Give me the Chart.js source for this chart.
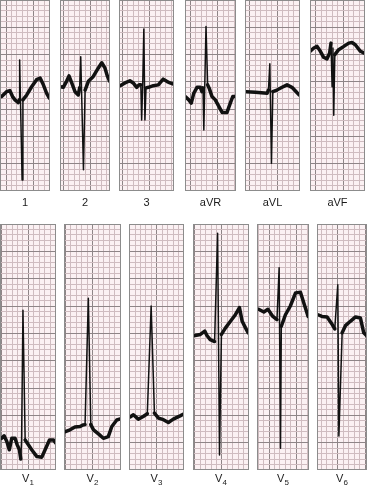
<!DOCTYPE html>
<html>
<head>
<meta charset="utf-8">
<title>12-lead ECG</title>
<script src="https://cdn.jsdelivr.net/npm/chart.js"></script>
<style>
  body { margin: 0; background: #fff; font-family: 'Liberation Sans', Arial, sans-serif; }
  #ecg { position: relative; width: 367px; height: 489px; overflow: hidden; }
  .panel { position: absolute; }
  .panel canvas { display: block; background: #fbf1f3; outline: 1px solid #8c8c8c; outline-offset: -1px; }
  .lead { position: absolute; font-size: 11px; line-height: 12px; color: #1a1a1a; text-align: center; }
  .lead sub { font-size: 8px; line-height: 0; vertical-align: -3px; }
</style>
</head>
<body>
<div id="ecg"></div>

<script>
  // lead names (label, subscript)
  const leadNames = ['1', '2', '3', 'aVR', 'aVL', 'aVF', 'V1', 'V2', 'V3', 'V4', 'V5', 'V6'];

  // traces: [time, amplitude] in small grid squares (1 mm)
  const lead1 = [[0.3,17.3],[1.2,18.2],[1.8,18.4],[2.3,17.3],[2.75,16.7],[3.35,16.2],[3.55,16.7],[3.6,24.0],[4.05,2.0],[4.2,16.7],[4.9,17.6],[5.8,19.1],[6.7,20.4],[7.35,20.7],[7.95,19.45],[8.55,17.9],[9.05,17.0]];
  const lead2 = [[0.05,19.1],[0.6,19.0],[1.2,20.1],[1.65,21.1],[2.15,19.8],[2.75,18.2],[3.35,17.6],[3.6,18.9],[3.8,24.6],[4.3,3.9],[4.6,18.5],[5.2,20.1],[6.1,21.0],[7.0,22.5],[7.65,23.5],[8.25,22.5],[8.7,21.0],[9.1,20.1]];
  const lead3 = [[0.2,19.3],[1.1,19.8],[2.0,20.2],[2.6,19.8],[3.25,19.0],[3.7,19.45],[4.0,19.45],[4.15,13.0],[4.35,19.8],[4.55,29.7],[4.75,13.0],[4.95,18.9],[5.4,19.0],[6.3,19.3],[7.2,19.45],[8.1,20.5],[8.75,20.1],[9.35,19.8],[9.95,19.6]];
  const leadAVR = [[0.05,17.3],[0.7,16.7],[1.15,16.1],[1.6,17.9],[2.2,19.0],[2.8,19.0],[3.1,18.2],[3.3,18.9],[3.45,11.2],[3.85,30.15],[4.15,19.45],[4.45,18.8],[4.95,17.3],[5.55,16.7],[6.2,15.5],[6.8,14.4],[7.7,14.4],[8.3,16.1],[8.75,17.3],[9.25,17.3]];
  const leadAVL = [[0.25,18.2],[1.9,18.1],[4.05,17.9],[4.3,18.5],[4.55,23.3],[4.85,5.1],[5.1,18.2],[5.85,18.5],[6.8,19.0],[7.7,19.45],[8.6,19.0],[9.55,18.0],[9.95,17.6]];
  const leadAVF = [[0.0,25.6],[0.7,26.2],[1.3,26.5],[1.9,25.6],[2.5,24.5],[3.1,24.2],[3.6,25.3],[3.85,27.1],[4.05,19.1],[4.2,26.2],[4.35,13.9],[4.55,25.0],[5.25,25.9],[6.2,26.5],[7.1,27.1],[7.7,27.2],[8.3,26.8],[9.25,25.6],[9.85,25.3]];
  const leadV1 = [[0.3,5.8],[0.75,6.25],[1.25,5.2],[1.7,3.7],[2.15,5.8],[2.75,5.8],[3.15,4.6],[3.55,3.7],[3.8,2.0],[3.95,5.5],[4.2,29.2],[4.6,5.5],[5.0,4.9],[5.8,3.7],[6.75,2.45],[7.65,2.35],[8.25,3.7],[9.05,5.5],[9.8,5.5],[10.15,5.0]];
  const leadV2 = [[0.25,7.0],[1.1,7.35],[2.0,7.85],[2.95,7.95],[3.45,8.25],[3.85,8.3],[4.45,31.4],[4.9,8.3],[5.4,7.35],[6.3,6.6],[7.2,5.8],[8.1,6.1],[8.75,7.95],[9.65,9.15],[10.3,9.35]];
  const leadV3 = [[0.2,9.7],[0.8,10.1],[1.7,9.3],[2.6,9.8],[3.35,10.3],[4.05,30.0],[4.65,10.4],[5.4,9.5],[6.3,9.2],[7.2,8.7],[8.1,9.3],[9.35,9.9],[10.1,10.3]];
  const leadV4 = [[0.4,24.6],[1.35,24.8],[2.15,25.4],[2.55,24.6],[3.15,23.85],[3.95,23.5],[4.5,43.3],[4.85,2.75],[5.2,24.8],[5.95,26.0],[6.85,27.2],[7.75,28.4],[8.5,29.7],[9.0,27.2],[9.6,26.0],[10.1,25.1]];
  const leadV5 = [[0.3,29.4],[1.25,28.9],[2.0,29.4],[2.9,28.1],[3.65,27.5],[4.05,37.0],[4.3,4.0],[4.45,26.3],[5.2,28.4],[6.1,30.0],[7.05,32.4],[7.95,32.5],[8.55,30.6],[9.35,28.1]];
  const leadV6 = [[0.2,28.4],[0.9,28.1],[1.85,28.0],[2.6,26.9],[3.25,25.8],[3.8,33.9],[4.0,6.2],[4.6,25.1],[5.2,26.4],[6.1,27.2],[7.05,28.0],[7.95,27.8],[8.55,25.1],[9.15,24.5]];

  const traces = [lead1, lead2, lead3, leadAVR, leadAVL, leadAVF, leadV1, leadV2, leadV3, leadV4, leadV5, leadV6];

  // layout: strip boxes in px, squares per strip height, first thick vertical line (mm)
  const rows = [{ top: 0, h: 191, squares: 35, labelTop: 196 }, { top: 224, h: 246, squares: 45, labelTop: 472 }];
  const strips = [
    { row: 0, left: 0,   w: 50, gx: 6.1 },
    { row: 0, left: 60,  w: 50, gx: 5.6 },
    { row: 0, left: 119, w: 55, gx: 5.6 },
    { row: 0, left: 185, w: 51, gx: 6.0 },
    { row: 0, left: 245, w: 55, gx: 5.9 },
    { row: 0, left: 310, w: 55, gx: 6.05 },
    { row: 1, left: 0,   w: 56, gx: 5.2 },
    { row: 1, left: 64,  w: 57, gx: 5.25 },
    { row: 1, left: 129, w: 55, gx: 5.1 },
    { row: 1, left: 193, w: 56, gx: 5.3 },
    { row: 1, left: 257, w: 52, gx: 2.2 },
    { row: 1, left: 317, w: 50, gx: 3.8 }
  ];

  const MINOR = '#cfbcc0';
  const MAJOR = '#8e8587';
  const INK = '#111';

  function gridTicks(max, offset) {
    const out = [];
    for (let k = -60; k <= 60; k++) {
      const v = offset + k;
      if (v > 0.02 && v < max - 0.02) out.push({ value: v, big: k % 5 === 0 });
    }
    return out;
  }

  function gridAxis(max, offset) {
    return {
      type: 'linear', min: 0, max: max,
      afterBuildTicks: (s) => { s.ticks = gridTicks(max, offset); },
      ticks: { display: false },
      grid: { drawTicks: false, lineWidth: 1, color: (c) => (c.tick && c.tick.big ? MAJOR : MINOR) },
      border: { display: false }
    };
  }

  const root = document.getElementById('ecg');

  strips.forEach((st, i) => {
    const row = rows[st.row];
    const sq = row.h / row.squares;

    const box = document.createElement('div');
    box.className = 'panel';
    box.style.left = st.left + 'px';
    box.style.top = row.top + 'px';
    const cv = document.createElement('canvas');
    cv.width = st.w; cv.height = row.h;
    cv.style.width = st.w + 'px'; cv.style.height = row.h + 'px';
    box.appendChild(cv);
    root.appendChild(box);

    const name = leadNames[i];
    const lab = document.createElement('div');
    lab.className = 'lead';
    lab.style.left = st.left + 'px';
    lab.style.width = st.w + 'px';
    lab.style.top = row.labelTop + 'px';
    lab.innerHTML = name[0] === 'V' ? 'V<sub>' + name.slice(1) + '</sub>' : name;
    root.appendChild(lab);

    new Chart(cv, {
      type: 'line',
      data: {
        datasets: [{
          data: traces[i].map(([x, y]) => ({ x, y })),
          borderColor: INK,
          borderWidth: 3.5,
          borderJoinStyle: 'round',
          borderCapStyle: 'round',
          pointRadius: 0,
          tension: 0,
          segment: {
            // fast deflections are drawn by a thinner pen
            borderWidth: (c) => {
              const dx = Math.abs(c.p1.x - c.p0.x), dy = Math.abs(c.p1.y - c.p0.y);
              return dy > 4 * dx && dy > 15 ? 1.5 : 3.5;
            }
          }
        }]
      },
      options: {
        responsive: false,
        animation: false,
        devicePixelRatio: 1,
        events: [],
        layout: { padding: 0 },
        plugins: { legend: { display: false }, tooltip: { enabled: false } },
        scales: {
          x: gridAxis(st.w / sq, st.gx),
          y: gridAxis(row.squares, 0)
        }
      }
    });
  });
</script>
</body>
</html>
